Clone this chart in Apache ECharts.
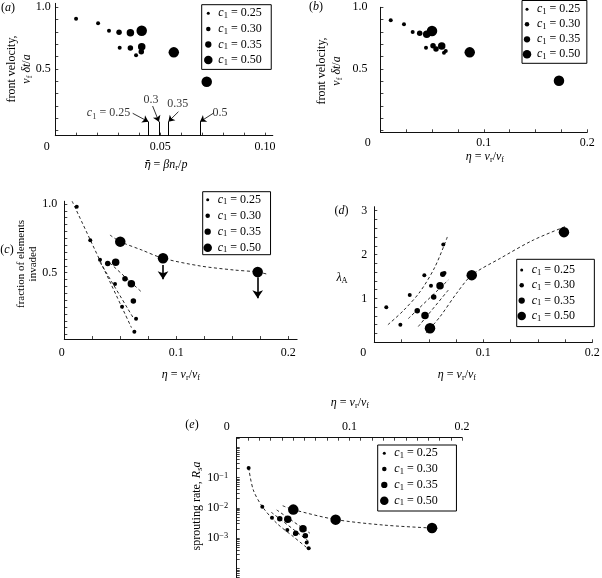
<!DOCTYPE html>
<html><head><meta charset="utf-8">
<script src="https://cdn.jsdelivr.net/npm/echarts@6/dist/echarts.min.js"></script>
<style>html,body{margin:0;padding:0;background:#fff}#c{width:602px;height:578px}</style>
</head><body><div id="c"></div>
<script>
const SERIF = 'Liberation Serif';
const c1Levels = [0.25, 0.30, 0.35, 0.50];
const c1Text = ['0.25', '0.30', '0.35', '0.50'];

// (a) [eta-bar, front velocity, c1]
const ptsA = [
  [0.0099,0.908,0.25],[0.0204,0.870,0.25],[0.0256,0.810,0.25],[0.0304,0.797,0.30],[0.0358,0.794,0.35],[0.0412,0.810,0.50],
  [0.0307,0.673,0.25],[0.0358,0.670,0.30],[0.0412,0.681,0.35],[0.0385,0.611,0.25],[0.0410,0.640,0.30],[0.0565,0.635,0.50],[0.0722,0.397,0.50]
];
// (b) [eta, front velocity, c1]
const ptsB = [
  [0.0100,0.895,0.25],[0.0228,0.862,0.25],[0.0312,0.800,0.25],[0.0380,0.789,0.30],[0.0448,0.781,0.35],[0.0499,0.808,0.50],
  [0.0441,0.673,0.25],[0.0509,0.689,0.30],[0.0538,0.662,0.30],[0.0593,0.686,0.35],[0.0615,0.632,0.25],[0.0632,0.646,0.25],
  [0.0864,0.635,0.50],[0.1727,0.405,0.50]
];
// (c) [eta, fraction invaded, c1]
const ptsC = [
  [0.0111,0.980,0.25],[0.0232,0.736,0.25],[0.0319,0.595,0.25],[0.0388,0.566,0.30],[0.0459,0.576,0.35],[0.0500,0.726,0.50],
  [0.0453,0.418,0.25],[0.0542,0.456,0.30],[0.0599,0.420,0.35],[0.0516,0.253,0.25],[0.0617,0.294,0.30],[0.0641,0.165,0.25],
  [0.0626,0.071,0.25],[0.0882,0.605,0.50],[0.1728,0.505,0.50]
];
// (d) [eta, lambda_A, c1]
const ptsD = [
  [0.0110,0.80,0.25],[0.0239,0.40,0.25],[0.0325,1.08,0.25],[0.0394,0.72,0.30],[0.0459,1.53,0.25],[0.0465,0.61,0.35],
  [0.0520,1.29,0.25],[0.0511,0.32,0.50],[0.0603,1.29,0.35],[0.0545,1.03,0.30],[0.0628,1.55,0.30],[0.0644,1.58,0.25],
  [0.0633,2.23,0.25],[0.0894,1.53,0.50],[0.1740,2.51,0.50]
];
// (e) [eta, sprouting rate Rs*a, c1]
const ptsE = [
  [0.0106,0.206,0.25],[0.0227,0.0109,0.25],[0.0313,0.00471,0.25],[0.0382,0.00437,0.30],[0.0453,0.00417,0.35],[0.0502,0.00871,0.50],
  [0.0449,0.00186,0.25],[0.0516,0.00138,0.25],[0.0524,0.00145,0.30],[0.0588,0.00204,0.35],[0.0609,0.00120,0.30],[0.0621,0.00072,0.25],
  [0.0639,0.00046,0.25],[0.0878,0.00407,0.50],[0.1733,0.00214,0.50]
];

// dashed fit curves
const fitC25 = [[0.007,1.02],[0.060,0.10]];
const fitC30 = [[0.032,0.575],[0.0617,0.17]];
const fitC35 = [[0.0408,0.57],[0.0692,0.358]];
const fitC50 = [[0.0408,0.774],[0.0500,0.726],[0.0692,0.665],[0.0882,0.605],[0.1214,0.549],[0.151,0.52],[0.1728,0.505],[0.1809,0.49]];
const fitD25 = [[0.0125,0.40],[0.0266,0.72],[0.0419,1.15],[0.0557,1.72],[0.0670,2.40]];
const fitD30 = [[0.0312,0.54],[0.0679,1.42]];
const fitD35 = [[0.0404,0.36],[0.0679,1.19]];
const fitD50 = [[0.0474,0.21],[0.0602,0.58],[0.0756,1.12],[0.0894,1.53],[0.1153,1.91],[0.1459,2.33],[0.1765,2.65]];
const fitE25 = [[0.0106,0.21],[0.0147,0.039],[0.0227,0.011],[0.0355,0.0031],[0.0502,0.00112],[0.0639,0.00043]];
const fitE30 = [[0.0307,0.0071],[0.0644,0.00076]];
const fitE35 = [[0.0355,0.0085],[0.0650,0.00145]];
const fitE50 = [[0.0408,0.0117],[0.0502,0.0087],[0.0878,0.0041],[0.130,0.0027],[0.1733,0.00214],[0.180,0.0021]];

// (a) critical eta-bar markers
const critEtaBar = [0.0444, 0.0494, 0.0539, 0.0690];
const critTop = 0.073;
const critLabelText = ['{i|c}{s|1} = 0.25', '0.3', '0.35', '0.5'];
const critLabelPos = [[0.0364,0.141],[0.0456,0.254],[0.0584,0.219],[0.0785,0.146]];
const critArrowStart = [[0.0369,0.141],[0.0464,0.200],[0.0587,0.154],[0.0753,0.141]];
const critCurve = [0.45,-0.3,-0.4,-0.4];
// (c) down arrows [eta, from, to]
const arrowsC = [[0.0882,0.556,0.452],[0.1728,0.467,0.314]];

// tick positions
function steps(a,b,d){const o=[];for(let v=a;v<=b+1e-9;v+=d)o.push(+v.toFixed(6));return o;}
const eYTicks=[];for(let n=-5;n<=0;n++)for(let k=1;k<=9;k++){const v=Math.log10(k*Math.pow(10,n));if(v>=-4.37&&v<=0.314)eYTicks.push(v);}

const dotSizes = [4, 5.5, 7.5, 10.5];
const legendDot = [3, 4.5, 6.3, 8.5];

function rich(fs, lh){
  return {
    i:{fontFamily:SERIF,fontStyle:'italic',fontSize:fs,lineHeight:lh},
    b:{fontFamily:'DejaVu Serif',fontStyle:'italic',fontSize:fs-1,lineHeight:lh},
    s:{fontFamily:SERIF,fontSize:fs*0.7,lineHeight:Math.max(1,lh-11),verticalAlign:'bottom'},
    sup:{fontFamily:SERIF,fontSize:fs*0.7,lineHeight:Math.max(1,lh-11),verticalAlign:'top'},
    n:{fontFamily:SERIF,fontSize:fs,lineHeight:lh}
  };
}
const near=(a,b)=>Math.abs(a-b)<1e-6;

function xAx(gi,min,max,interval,tickVals,labelVals,dec,zeroShift,margin,pos){
  return {type:'value',gridIndex:gi,min,max,interval,position:pos||'bottom',
    axisLine:{show:true,onZero:false,lineStyle:{color:'#111',width:1}},
    axisTick:{show:true,inside:true,length:3,customValues:tickVals,lineStyle:{color:'#111',width:0.8}},
    minorTick:{show:false},splitLine:{show:false},
    axisLabel:{show:true,customValues:labelVals,margin,color:'#000',fontFamily:SERIF,fontSize:12,
      formatter:v=>{ if(near(v,0)) return '{z|0}'; for(const l of labelVals){ if(near(v,l)) return v.toFixed(dec);} return ''; },
      rich:{z:{fontFamily:SERIF,fontSize:12,padding:[0,2*zeroShift,0,0]}}}
  };
}
function yAx(gi,min,max,opt,tickVals,labelVals,fmt,margin){
  const a={type:'value',gridIndex:gi,min,max,
    axisLine:{show:true,onZero:false,lineStyle:{color:'#111',width:1}},
    axisTick:{show:true,inside:true,length:3,customValues:tickVals,lineStyle:{color:'#111',width:0.8}},
    minorTick:{show:false},splitLine:{show:false},
    axisLabel:{show:true,customValues:labelVals,margin,color:'#000',fontFamily:SERIF,fontSize:12,
      formatter:v=>{for(const l of labelVals){if(near(v,l))return fmt(l);}return '';},rich:rich(12,14)}
  };
  Object.assign(a,opt);
  return a;
}

const grids = [
  {left:55.3,top:3.35,width:217.5,height:132.3},
  {left:380.4,top:7.3,width:206.8,height:125.0},
  {left:64.3,top:201.25,width:232.8,height:137.8},
  {left:374.3,top:206.7,width:218,height:135.6},
  {left:236.7,top:437.7,width:225.4,height:141.9}
].map(g=>Object.assign({outerBoundsMode:'none',containLabel:false},g));

const xAxes = [
  xAx(0,0,0.1037,0.05,steps(0,0.10,0.01),[0,0.05,0.10],2,8.6,5),
  xAx(1,0,0.2,0.1,steps(0,0.2,0.025),[0,0.1,0.2],1,12.7,5),
  xAx(2,0,0.208,0.1,steps(0,0.2,0.025),[0,0.1,0.2],1,2.6,8),
  xAx(3,0,0.2,0.1,steps(0,0.2,0.025),[0,0.1,0.2],1,11,5),
  xAx(4,0,0.2,0.1,steps(0,0.2,0.01),[0,0.1,0.2],1,10,5,'top')
];
const f1 = v=>v.toFixed(1);
const yAxes = [
  yAx(0,-0.04,1.032,{splitNumber:2},steps(0,1.0,0.1),[0.5,1.0],f1,4.5),
  yAx(1,-0.013,1.0,{splitNumber:2},steps(0,1.0,0.1),[0.5,1.0],f1,13),
  yAx(2,0.017,1.02,{splitNumber:2},steps(0.05,1.0,0.05),[0.5,1.0],f1,7),
  yAx(3,0,3.09,{interval:1},steps(0,3,0.2),[1,2,3],v=>String(v),7),
  yAx(4,-4.37,0.314,{splitNumber:5},eYTicks,[-1,-2,-3],v=>'10{sup|−'+(-v)+'}',8.5)
];

const series = [];
function addDots(pts,gi,fy){
  c1Levels.forEach((c,k)=>{
    series.push({type:'scatter',name:c1Text[k],xAxisIndex:gi,yAxisIndex:gi,symbol:'circle',
      symbolSize:dotSizes[k],itemStyle:{color:'#000',opacity:1},silent:true,z:3,animation:false,
      data:pts.filter(p=>p[2]===c).map(p=>[p[0],fy?fy(p[1]):p[1]])});
  });
}
addDots(ptsA,0);addDots(ptsB,1);addDots(ptsC,2);addDots(ptsD,3);addDots(ptsE,4,Math.log10);

function addFit(d,gi,fy,extra){
  const s={type:'line',xAxisIndex:gi,yAxisIndex:gi,smooth:0.3,symbol:'none',silent:true,z:1,animation:false,
    lineStyle:{color:'#111',width:0.9,type:[3,2.5]},data:d.map(p=>[p[0],fy?fy(p[1]):p[1]])};
  series.push(Object.assign(s,extra||{}));
}
addFit(fitC25,2);addFit(fitC30,2);addFit(fitC35,2);
addFit(fitC50,2,null,{markLine:{silent:true,animation:false,symbol:['none','arrow'],symbolSize:8,label:{show:false},
  emphasis:{disabled:true},lineStyle:{color:'#000',width:1.6,type:'solid'},
  data:arrowsC.map(a=>[{coord:[a[0],a[1]]},{coord:[a[0],a[2]]}])}});
addFit(fitD25,3);addFit(fitD30,3);addFit(fitD35,3);addFit(fitD50,3);
addFit(fitE25,4,Math.log10);addFit(fitE30,4,Math.log10);addFit(fitE35,4,Math.log10);addFit(fitE50,4,Math.log10);

// (a) markers, labels and curved arrows
series.push({type:'scatter',xAxisIndex:0,yAxisIndex:0,symbolSize:1,silent:true,z:5,animation:false,
  itemStyle:{color:'rgba(0,0,0,0)'},
  data:critLabelPos.map((p,k)=>({value:p,label:{show:true,position:k===0?'left':'inside',distance:1,
    formatter:critLabelText[k],color:'#000',fontFamily:SERIF,fontSize:12,rich:rich(12,14)}})),
  markLine:{silent:true,animation:false,symbol:['none','none'],label:{show:false},emphasis:{disabled:true},
    lineStyle:{color:'#000',width:1,type:'solid'},
    data:[
      ...critEtaBar.map(x=>[{coord:[x,-0.04]},{coord:[x,critTop]}]),
      ...critArrowStart.map((s,k)=>[
        {coord:s,lineStyle:{curveness:critCurve[k],width:0.8,color:'#000',type:'solid'}},
        {coord:[critEtaBar[k],critTop],symbol:'arrow',symbolSize:6,lineStyle:{curveness:critCurve[k],width:0.8,color:'#000',type:'solid'}}])
    ]}
});

function dotIcon(d){const r=d/2;return `path://M0 0L0 0M10 10L10 10M${5-r} 5A${r} ${r} 0 1 1 ${5+r} 5A${r} ${r} 0 1 1 ${5-r} 5Z`;}
function legend(left,top,pad,gap,textGap){
  return {show:true,orient:'vertical',left,top,padding:pad,itemGap:gap,itemWidth:10,itemHeight:10,itemTextGap:textGap,
    borderColor:'#000',borderWidth:1,borderRadius:0,selectedMode:false,backgroundColor:'transparent',
    data:c1Text.map((t,k)=>({name:t,icon:dotIcon(legendDot[k])})),
    formatter:n=>'{i|c}{s|1}{n| = '+n+'}',
    itemStyle:{borderWidth:0,opacity:1,color:'#000'},
    textStyle:{fontFamily:SERIF,fontSize:12,color:'#000',lineHeight:14,rich:{
      i:{fontFamily:SERIF,fontStyle:'italic',fontSize:12,lineHeight:14},
      s:{fontFamily:SERIF,fontSize:8.5,lineHeight:2,verticalAlign:'bottom'},
      n:{fontFamily:SERIF,fontSize:12,lineHeight:14}}}
  };
}
const legends = [
  legend(201.7,4.7,[1.6,9.6,2.3,1.6],1.6,3.4),
  legend(522,0.5,[1.8,6.5,2,0],1,3),
  legend(202.7,191.7,[1,9.5,0,0],2,2),
  legend(516.7,259.3,[3.7,19.3,3.7,0],1.3,3.3),
  legend(377.7,445,[1.3,18.8,3.3,1.6],1.8,1)
];

function T(x,y,text,o){o=o||{};const fs=o.fs||12,lh=o.lh||14;
  return {type:'text',x,y,rotation:o.rot||0,silent:true,z:10,
    style:{text,fontFamily:SERIF,fontSize:fs,fill:'#000',align:'center',verticalAlign:'middle',lineHeight:lh,rich:rich(fs,lh)}};}
const etaTitle='{i|η} = {i|v}{s|r}/{i|v}{s|f}';
const R90=Math.PI/2;
const graphics=[
  T(8,7.5,'({i|a})'),T(316,7,'({i|b})'),T(7,250,'({i|c})'),T(341.5,211,'({i|d})'),T(192,425,'({i|e})'),
  T(165.7,165,'{b|η\u0304} = {i|βn}{s|r}/{i|p}'),
  T(485,156.7,etaTitle),T(181,375,etaTitle),T(457,375,etaTitle),T(350,403,etaTitle),
  T(19,69,'front velocity,\n{i|v}{s|f} {i|δt}/{i|a}',{rot:R90,lh:15}),
  T(329,71,'front velocity,\n{i|v}{s|f} {i|δt}/{i|a}',{rot:R90,lh:15}),
  T(27,264,'fraction of elements\ninvaded',{rot:R90,fs:11,lh:12.6}),
  T(342,278.3,'{i|λ}{s|A}'),
  T(197,506,'sprouting rate, {i|R}{s|s}{i|a}',{rot:R90})
];

const chart = echarts.init(document.getElementById('c'),null,{renderer:'canvas'});
chart.setOption({
  animation:false,backgroundColor:'#fff',
  grid:grids,xAxis:xAxes,yAxis:yAxes,series,legend:legends,graphic:graphics,
  tooltip:{show:false}
});
</script></body></html>
